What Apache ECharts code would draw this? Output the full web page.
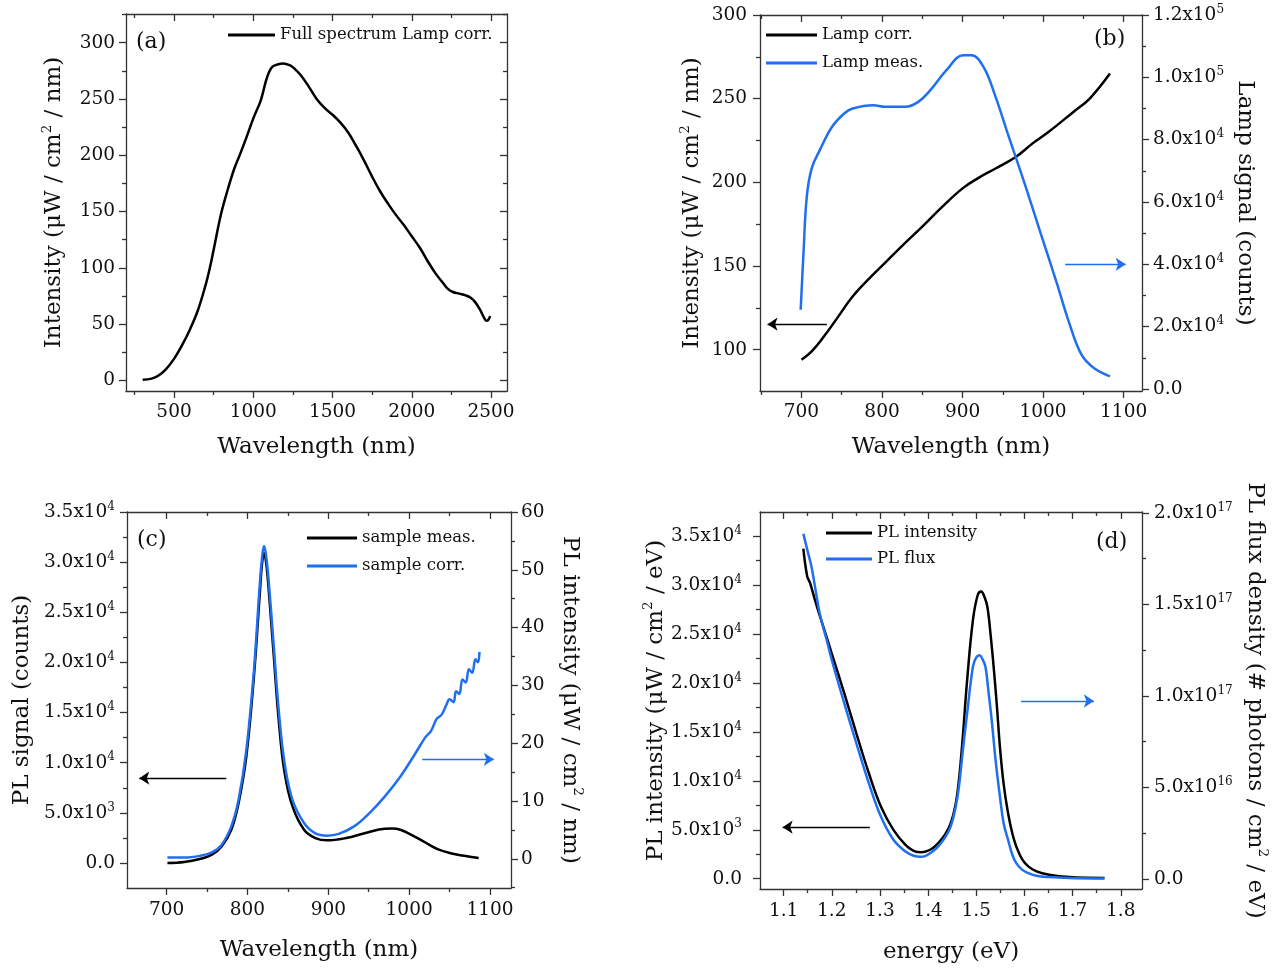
<!DOCTYPE html>
<html><head><meta charset="utf-8">
<script src="https://cdn.jsdelivr.net/npm/echarts@6/dist/echarts.min.js"></script>
<style>html,body{margin:0;padding:0;background:#fff}#c{width:1278px;height:969px}</style>
</head><body><div id="c"></div>
<script>
// ---------- Panel (a) ----------
const aWave = [302, 359, 400, 450, 500, 550, 600, 650, 700, 723, 750, 797, 840, 880, 917, 960, 1001, 1043, 1060, 1080, 1100, 1120, 1150, 1190, 1230, 1260, 1300, 1350, 1400, 1450, 1500, 1550, 1600, 1650, 1700, 1750, 1800, 1850, 1900, 1950, 2000, 2050, 2100, 2150, 2200, 2230, 2260, 2300, 2340, 2370, 2400, 2430, 2455, 2470, 2482, 2495];
const aInt  = [0.6, 1.5, 4, 10, 19, 31, 45, 62, 85, 98, 116, 148, 170, 188, 201, 217, 233, 247, 255, 266, 274, 278.5, 280.5, 281.6, 280, 277, 271, 261, 250, 242, 236, 229, 220, 208, 195, 181, 168, 157, 147, 138, 128, 118, 106, 95, 86, 81, 78.5, 77, 75.5, 73.5, 69.5, 63, 56, 53, 53.5, 57];
const aXMajor = [500, 1000, 1500, 2000, 2500];
const aXMinor = [250, 750, 1250, 1750, 2250];
const aYMajor = [0, 50, 100, 150, 200, 250, 300];
const aYMinor = [25, 75, 125, 175, 225, 275, 325];

// ---------- Panel (b) ----------
const bCorrWave = [700, 712.7, 728, 743, 763.5, 784, 804, 824, 850, 875, 900, 918.8, 941, 966.5, 987, 1007, 1037.6, 1057.9, 1083];
const bCorr     = [94, 99, 108, 118, 131.8, 142.5, 152, 161.6, 173.6, 185.5, 196.4, 202.4, 208.3, 215.3, 223.3, 230.2, 242.1, 250.1, 265];
const bMeasWave = [699, 702.5, 706.6, 712.7, 722.8, 738, 753, 763.5, 789, 804, 829, 845, 860, 880, 901, 911, 926, 941, 956, 977, 997, 1017, 1032.5, 1047.7, 1063, 1083];
const bMeas     = [25410, 43560, 61700, 70780, 76650, 84130, 88400, 90000, 91070, 90530, 90530, 92130, 95870, 102280, 107080, 107080, 103340, 93730, 81990, 65980, 49960, 33950, 21140, 11000, 6730, 4060];
const bXMajor = [700, 800, 900, 1000, 1100];
const bXMinor = [650, 750, 850, 950, 1050];
const bYMajor = [100, 150, 200, 250, 300];
const bYMinor = [125, 175, 225, 275];
const bRMajor = [0, 20000, 40000, 60000, 80000, 100000, 120000];
const bRMinor = [10000, 30000, 50000, 70000, 90000, 110000];

// ---------- Panel (c) ----------
const cMeasWave = [701, 722, 741, 756, 768, 780, 789, 798.6, 808, 815, 818, 820.5, 823, 826, 832, 839, 846, 855.7, 870, 884, 898.6, 922, 946, 970, 979.5, 990, 998.6, 1017.6, 1036.7, 1055.7, 1070, 1086];
const cMeas     = [0, 100, 400, 830, 1660, 3320, 5970, 10620, 18580, 26540, 29800, 30900, 30000, 27500, 21230, 13930, 8960, 5640, 3320, 2490, 2260, 2490, 2990, 3420, 3440, 3300, 2990, 2160, 1330, 900, 700, 500];
const cCorrWave = [701, 722, 741, 756, 768, 780, 789, 798.6, 808, 815, 818, 820.5, 823, 826, 832, 839, 846, 855.7, 870, 884, 898.6, 912.8, 931.9, 950.9, 970, 989, 1008, 1020, 1027, 1034, 1040, 1046, 1050, 1055, 1058, 1062, 1066, 1070, 1074, 1078, 1082, 1085, 1087];
const cCorr     = [0.2, 0.2, 0.5, 1.1, 2.4, 5.6, 10.2, 18.8, 32.6, 47.0, 52, 54.1, 52.5, 48.5, 37.8, 25.2, 16.5, 10.2, 6.2, 4.4, 4.0, 4.3, 5.6, 7.9, 10.8, 14.2, 18.3, 21.0, 22.1, 24.2, 24.9, 26.6, 27.6, 27.1, 29.0, 28.5, 31.0, 30.5, 32.8, 32.2, 34.5, 34.0, 35.8];
const cXMajor = [700, 800, 900, 1000, 1100];
const cXMinor = [750, 850, 950, 1050];
const cYMajor = [0, 5000, 10000, 15000, 20000, 25000, 30000, 35000];
const cYMinor = [2500, 7500, 12500, 17500, 22500, 27500, 32500];
const cRMajor = [0, 10, 20, 30, 40, 50, 60];
const cRMinor = [-5, 5, 15, 25, 35, 45, 55];

// ---------- Panel (d) ----------
const dIntEnergy = [1.141, 1.149, 1.155, 1.165, 1.175, 1.19, 1.2, 1.226, 1.251, 1.277, 1.302, 1.328, 1.353, 1.37, 1.385, 1.396, 1.41, 1.421, 1.435, 1.447, 1.457, 1.464, 1.472, 1.481, 1.493, 1.503, 1.51, 1.517, 1.523, 1.53, 1.536, 1.543, 1.549, 1.557, 1.566, 1.575, 1.583, 1.595, 1.608, 1.625, 1.651, 1.693, 1.766];
const dInt       = [33740, 30900, 30200, 28500, 26900, 24600, 23000, 18950, 14860, 10780, 7380, 5000, 3470, 2850, 2700, 2790, 3150, 3640, 4500, 5680, 7600, 10100, 14500, 20300, 26430, 29000, 29350, 28800, 27790, 24800, 21670, 17500, 13500, 9600, 6700, 4600, 3300, 2000, 1260, 750, 410, 170, 70];
const dFluxEnergy = [1.141, 1.149, 1.158, 1.165, 1.175, 1.19, 1.2, 1.226, 1.251, 1.277, 1.302, 1.328, 1.353, 1.37, 1.385, 1.396, 1.41, 1.421, 1.435, 1.447, 1.457, 1.464, 1.472, 1.481, 1.493, 1.5, 1.507, 1.513, 1.519, 1.525, 1.532, 1.54, 1.549, 1.557, 1.566, 1.575, 1.583, 1.595, 1.608, 1.625, 1.651, 1.693, 1.766];
const dFlux       = [1.887e17, 1.80e17, 1.705e17, 1.60e17, 1.45e17, 1.30e17, 1.196e17, 0.959e17, 0.741e17, 0.522e17, 0.340e17, 0.213e17, 0.149e17, 0.126e17, 0.120e17, 0.127e17, 0.150e17, 0.177e17, 0.225e17, 0.286e17, 0.39e17, 0.504e17, 0.70e17, 0.904e17, 1.159e17, 1.21e17, 1.222e17, 1.20e17, 1.159e17, 1.03e17, 0.868e17, 0.65e17, 0.450e17, 0.30e17, 0.213e17, 0.13e17, 0.0855e17, 0.05e17, 0.031e17, 0.016e17, 0.009e17, 0.004e17, 0.001e17];
const dXMajor = [1.1, 1.2, 1.3, 1.4, 1.5, 1.6, 1.7, 1.8];
const dXMinor = [1.15, 1.25, 1.35, 1.45, 1.55, 1.65, 1.75];
const dYMajor = [0, 5000, 10000, 15000, 20000, 25000, 30000, 35000];
const dYMinor = [2500, 7500, 12500, 17500, 22500, 27500, 32500];
const dRMajor = [0, 5e16, 1e17, 1.5e17, 2e17];
const dRMinor = [2.5e16, 7.5e16, 1.25e17, 1.75e17];

// ---------- styling ----------
const FONT = 'DejaVu Serif';
const AX = '#333';
const TXT = '#111';
const BLUE = '#1f6ff0';
const labelRich = {
  m: {fontFamily: FONT, fontSize: 18.5, color: TXT, lineHeight: 23},
  s: {fontFamily: FONT, fontSize: 12, color: TXT, lineHeight: 12, verticalAlign: 'top'}
};
const nameRich = {
  t: {fontFamily: FONT, fontSize: 23, color: TXT, lineHeight: 28},
  s: {fontFamily: FONT, fontSize: 13.5, color: TXT, lineHeight: 14, verticalAlign: 'top'}
};
const fmtInt = v => '{m|' + v + '}';
const fmt1 = v => '{m|' + v.toFixed(1) + '}';
const fmtSci = v => {
  if (v === 0) return '{m|0.0}';
  const e = Math.floor(Math.log10(Math.abs(v)) + 1e-9);
  const m = (v / Math.pow(10, e)).toFixed(1);
  return '{m|' + m + 'x10}{s|' + e + '}';
};
const zip = (xs, ys) => xs.map((x, i) => [x, ys[i]]);

const xAxes = [], yAxes = [];
function addAxis(list, o) {
  const base = {gridIndex: o.grid, type: 'value', position: o.pos, min: o.min, max: o.max,
    splitLine: {show: false}, silent: true};
  const main = Object.assign({}, base, {
    axisLine: {show: true, onZero: false, lineStyle: {color: AX, width: 1.3}},
    axisTick: {show: true, inside: !!o.inside, length: 7, customValues: o.majors, lineStyle: {color: AX, width: 1.3}},
    axisLabel: o.fmt ? {show: true, customValues: o.majors, formatter: o.fmt, margin: o.margin, rich: labelRich}
                     : {show: false},
    name: o.name || '', nameLocation: 'middle', nameGap: o.nameGap || 0,
    nameTextStyle: {rich: nameRich}
  });
  if (o.nameRotate !== undefined) main.nameRotate = o.nameRotate;
  list.push(main);
  const idx = list.length - 1;
  list.push(Object.assign({}, base, {
    axisLine: {show: false, onZero: false},
    axisTick: {show: true, inside: !!o.inside, length: 4, customValues: o.minors, lineStyle: {color: AX, width: 1.3}},
    axisLabel: {show: false}
  }));
  return idx;
}

const grids = [
  {left: 126, top: 14, width: 381, height: 377},
  {left: 760, top: 15, width: 382, height: 376},
  {left: 127, top: 512, width: 384, height: 376},
  {left: 760, top: 512, width: 382, height: 377}
];

// (a)
const ax = addAxis(xAxes, {grid: 0, pos: 'bottom', min: 197, max: 2601, majors: aXMajor, minors: aXMinor, fmt: fmtInt, margin: 10, name: '{t|Wavelength (nm)}', nameGap: 42});
addAxis(xAxes, {grid: 0, pos: 'top', min: 197, max: 2601, majors: aXMajor, minors: aXMinor, inside: true});
const ay = addAxis(yAxes, {grid: 0, pos: 'left', min: -9.5, max: 325.5, majors: aYMajor, minors: aYMinor, fmt: fmtInt, margin: 11, name: '{t|Intensity (μW / cm}{s|2}{t| / nm)}', nameGap: 58});
addAxis(yAxes, {grid: 0, pos: 'right', min: -9.5, max: 325.5, majors: aYMajor, minors: aYMinor, inside: true});
// (b)
const bx = addAxis(xAxes, {grid: 1, pos: 'bottom', min: 648.5, max: 1122.8, majors: bXMajor, minors: bXMinor, fmt: fmtInt, margin: 10, name: '{t|Wavelength (nm)}', nameGap: 42});
addAxis(xAxes, {grid: 1, pos: 'top', min: 648.5, max: 1122.8, majors: bXMajor, minors: bXMinor, inside: true});
const by = addAxis(yAxes, {grid: 1, pos: 'left', min: 75.35, max: 300, majors: bYMajor, minors: bYMinor, fmt: fmtInt, margin: 13, name: '{t|Intensity (μW / cm}{s|2}{t| / nm)}', nameGap: 54});
const br = addAxis(yAxes, {grid: 1, pos: 'right', min: -640, max: 120000, majors: bRMajor, minors: bRMinor, fmt: fmtSci, margin: 11, name: '{t|Lamp signal (counts)}', nameGap: 89, nameRotate: -90});
// (c)
const cx = addAxis(xAxes, {grid: 2, pos: 'bottom', min: 651, max: 1126, majors: cXMajor, minors: cXMinor, fmt: fmtInt, margin: 11, name: '{t|Wavelength (nm)}', nameGap: 48});
addAxis(xAxes, {grid: 2, pos: 'top', min: 651, max: 1126, majors: cXMajor, minors: cXMinor, inside: true});
const cy = addAxis(yAxes, {grid: 2, pos: 'left', min: -2490, max: 35000, majors: cYMajor, minors: cYMinor, fmt: fmtSci, margin: 12, name: '{t|PL signal (counts)}', nameGap: 91});
const cr = addAxis(yAxes, {grid: 2, pos: 'right', min: -5.06, max: 60, majors: cRMajor, minors: cRMinor, fmt: fmtInt, margin: 10, name: '{t|PL intensity (μW / cm}{s|2}{t| / nm)}', nameGap: 45, nameRotate: -90});
// (d)
const dx = addAxis(xAxes, {grid: 3, pos: 'bottom', min: 1.051, max: 1.844, majors: dXMajor, minors: dXMinor, fmt: fmt1, margin: 11, name: '{t|energy (eV)}', nameGap: 49});
addAxis(xAxes, {grid: 3, pos: 'top', min: 1.051, max: 1.844, majors: dXMajor, minors: dXMinor, inside: true});
const dy = addAxis(yAxes, {grid: 3, pos: 'left', min: -1050, max: 37480, majors: dYMajor, minors: dYMinor, fmt: fmtSci, margin: 18, name: '{t|PL intensity (μW / cm}{s|2}{t| / eV)}', nameGap: 90});
const dr = addAxis(yAxes, {grid: 3, pos: 'right', min: -5.6e15, max: 2.0055e17, majors: dRMajor, minors: dRMinor, fmt: fmtSci, margin: 12, name: '{t|PL flux density (# photons / cm}{s|2}{t| / eV)}', nameGap: 99, nameRotate: -90});

function line(name, xi, yi, data, color, arrow) {
  const s = {type: 'line', name, xAxisIndex: xi, yAxisIndex: yi, data, showSymbol: false,
    smooth: 0.4, silent: true,
    lineStyle: {color, width: 2.5}, itemStyle: {color}};
  if (arrow) {
    s.markLine = {silent: true, animation: false, symbol: ['none', 'arrow'], symbolSize: 10,
      label: {show: false}, emphasis: {disabled: true},
      lineStyle: {color, width: 1.4, type: 'solid'},
      data: [[{coord: arrow[0], symbol: 'none'}, {coord: arrow[1], symbol: 'arrow', symbolSize: 10}]]};
  }
  return s;
}

const series = [
  line('Full spectrum Lamp corr.', ax, ay, zip(aWave, aInt), '#000'),
  line('Lamp corr.', bx, by, zip(bCorrWave, bCorr), '#000', [[731.5, 115.3], [657.9, 115.3]]),
  line('Lamp meas.', bx, br, zip(bMeasWave, bMeas), BLUE, [[1027.4, 40000], [1102.5, 40000]]),
  line('sample meas.', cx, cy, zip(cMeasWave, cMeas), '#000', [[773.8, 8460], [666.2, 8460]]),
  line('sample corr.', cx, cr, zip(cCorrWave, cCorr), BLUE, [[1016.2, 17.2], [1104.8, 17.2]]),
  line('PL intensity', dx, dy, zip(dIntEnergy, dInt), '#000', [[1.279, 5270], [1.098, 5270]]),
  line('PL flux', dx, dr, zip(dFluxEnergy, dFlux), BLUE, [[1.593, 0.972e17], [1.744, 0.972e17]])
];

const legTS = {fontFamily: FONT, fontSize: 16.5, color: TXT, lineHeight: 20};
function legend(names, left, top, w, gap) {
  return {orient: 'vertical', left, top, padding: 0, itemGap: gap, itemWidth: w, itemHeight: 3,
    icon: 'rect', data: names, textStyle: legTS, selectedMode: false};
}
const titleTS = {fontFamily: FONT, fontSize: 22, fontWeight: 'normal', color: TXT};
function tag(text, left, top) { return {text, left, top, padding: 0, textStyle: titleTS}; }

const chart = echarts.init(document.getElementById('c'), null, {renderer: 'canvas'});
chart.setOption({
  animation: false,
  backgroundColor: '#fff',
  title: [tag('(a)', 136, 31), tag('(b)', 1094, 28), tag('(c)', 137, 529), tag('(d)', 1096, 531)],
  legend: [
    legend(['Full spectrum Lamp corr.'], 228, 25, 47, 8),
    legend(['Lamp corr.', 'Lamp meas.'], 766, 25, 51, 8),
    legend(['sample meas.', 'sample corr.'], 307, 528, 50, 8),
    legend(['PL intensity', 'PL flux'], 826, 523, 46, 6)
  ],
  grid: grids,
  xAxis: xAxes,
  yAxis: yAxes,
  series
});
</script></body></html>
